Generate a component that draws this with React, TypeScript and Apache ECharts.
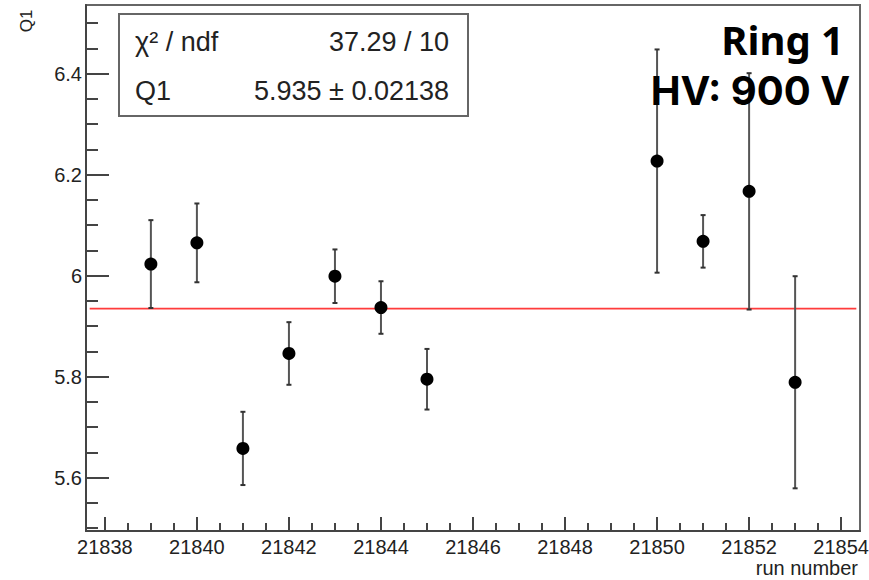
import React, { useEffect, useRef } from "react";
import * as echarts from "echarts";

// ---- data ----
const runs = [21839, 21840, 21841, 21842, 21843, 21844, 21845, 21850, 21851, 21852, 21853];
const q1 = [6.023, 6.065, 5.658, 5.846, 5.999, 5.937, 5.795, 6.227, 6.068, 6.167, 5.789];
const q1Err = [0.087, 0.078, 0.0725, 0.062, 0.053, 0.052, 0.06, 0.221, 0.052, 0.234, 0.21];

const fitValue = 5.935;
const fitRange = [21837.67, 21854.33];

const xMajorTicks = [21838, 21840, 21842, 21844, 21846, 21848, 21850, 21852, 21854];
const yMajorTicks = [5.6, 5.8, 6.0, 6.2, 6.4];

const xRange = [21837.59, 21854.41];
const yRange = [5.4945, 6.536];

const statsRows = [
  ["χ² / ndf", "37.29 / 10"],
  ["Q1", "5.935 ± 0.02138"],
];
const titleLines = ["Ring 1", "HV: 900 V"];

// minor ticks every quarter of a major step
const xMinorTicks: number[] = [];
for (let k = 0; k <= 36; k++) {
  const v = 21837.5 + k * 0.5;
  if (v > xRange[0] && v < xRange[1] && !xMajorTicks.includes(v)) xMinorTicks.push(v);
}
const yMinorTicks: number[] = [];
for (let k = 0; k <= 22; k++) {
  const v = Math.round((5.45 + k * 0.05) * 1000) / 1000;
  if (v > yRange[0] && v < yRange[1] && !yMajorTicks.some((m) => Math.abs(m - v) < 1e-6)) yMinorTicks.push(v);
}

const FONT = "Liberation Sans";

export default function App() {
  const ref = useRef<HTMLDivElement>(null);
  useEffect(() => {
    if (!ref.current) return;
    const chart = echarts.init(ref.current, undefined, { renderer: "svg" });
    const points = runs.map((r, i) => [r, q1[i], q1Err[i]]);
    const axisCommon = {
      type: "value" as const,
      splitLine: { show: false },
    };
    chart.setOption({
      animation: false,
      backgroundColor: "#ffffff",
      grid: {
        left: 86,
        right: 9,
        top: 5,
        bottom: 49,
        containLabel: false,
        outerBoundsMode: "none",
        show: true,
        borderColor: "#666",
        borderWidth: 2,
        backgroundColor: "transparent",
      },
      xAxis: [
        {
          ...axisCommon,
          min: xRange[0],
          max: xRange[1],
          position: "bottom",
          axisLine: { show: true, lineStyle: { color: "#444", width: 2 } },
          axisTick: { show: true, inside: true, length: 14, customValues: xMajorTicks, lineStyle: { color: "#444", width: 2 } },
          axisLabel: {
            show: true,
            customValues: xMajorTicks,
            margin: 6,
            fontFamily: FONT,
            fontSize: 20,
            color: "#222",
            formatter: (v: number) => String(Math.round(v)),
          },
        },
        {
          ...axisCommon,
          min: xRange[0],
          max: xRange[1],
          position: "bottom",
          axisLine: { show: false },
          axisTick: { show: true, inside: true, length: 8, customValues: xMinorTicks, lineStyle: { color: "#444", width: 2 } },
          axisLabel: { show: false },
        },
      ],
      yAxis: [
        {
          ...axisCommon,
          min: yRange[0],
          max: yRange[1],
          position: "left",
          axisLine: { show: true, lineStyle: { color: "#444", width: 2 } },
          axisTick: { show: true, inside: true, length: 23, customValues: yMajorTicks, lineStyle: { color: "#444", width: 2 } },
          axisLabel: {
            show: true,
            customValues: yMajorTicks,
            margin: 4,
            fontFamily: FONT,
            fontSize: 20,
            color: "#222",
            formatter: (v: number) => String(Math.round(v * 10) / 10),
          },
        },
        {
          ...axisCommon,
          min: yRange[0],
          max: yRange[1],
          position: "left",
          axisLine: { show: false },
          axisTick: { show: true, inside: true, length: 12, customValues: yMinorTicks, lineStyle: { color: "#444", width: 2 } },
          axisLabel: { show: false },
        },
      ],
      series: [
        {
          type: "line",
          xAxisIndex: 0,
          yAxisIndex: 0,
          data: [
            [fitRange[0], fitValue],
            [fitRange[1], fitValue],
          ],
          symbol: "none",
          lineStyle: { color: "#ff3b3b", width: 1.8 },
          silent: true,
          z: 2,
        },
        {
          type: "custom",
          xAxisIndex: 0,
          yAxisIndex: 0,
          data: points,
          encode: { x: 0, y: 1 },
          z: 3,
          renderItem: (params: any, api: any) => {
            const x = api.value(0);
            const y = api.value(1);
            const e = api.value(2);
            const top = api.coord([x, y + e]);
            const bot = api.coord([x, y - e]);
            const cap = 2.5;
            return {
              type: "group",
              children: [
                { type: "line", shape: { x1: top[0], y1: top[1], x2: bot[0], y2: bot[1] }, style: { stroke: "#555", lineWidth: 2 } },
                { type: "line", shape: { x1: top[0] - cap, y1: top[1], x2: top[0] + cap, y2: top[1] }, style: { stroke: "#333", lineWidth: 2 } },
                { type: "line", shape: { x1: bot[0] - cap, y1: bot[1], x2: bot[0] + cap, y2: bot[1] }, style: { stroke: "#333", lineWidth: 2 } },
              ],
            };
          },
        },
        {
          type: "scatter",
          xAxisIndex: 0,
          yAxisIndex: 0,
          data: points.map((p) => [p[0], p[1]]),
          symbol: "circle",
          symbolSize: 13,
          itemStyle: { color: "#000", opacity: 1 },
          z: 4,
        },
      ],
      graphic: [
        {
          type: "rect",
          shape: { x: 119, y: 14, width: 349, height: 102 },
          style: { fill: "#fff", stroke: "#666", lineWidth: 2 },
          z: 10,
        },
        ...statsRows.flatMap((row, i) => [
          {
            type: "text",
            x: 135,
            y: 42 + i * 49,
            z: 11,
            style: { text: row[0], fontFamily: FONT, fontSize: 27, fill: "#222", align: "left", verticalAlign: "middle" },
          },
          {
            type: "text",
            x: 449,
            y: 42 + i * 49,
            z: 11,
            style: { text: row[1], fontFamily: FONT, fontSize: 27, fill: "#222", align: "right", verticalAlign: "middle" },
          },
        ]),
        {
          type: "text",
          x: 844,
          y: 39,
          z: 12,
          style: { text: titleLines[0], fontFamily: "Noto Sans", fontWeight: "bold", fontSize: 40, fill: "#000", align: "right", verticalAlign: "middle" },
        },
        {
          type: "text",
          x: 850,
          y: 90,
          z: 12,
          style: { text: titleLines[1], fontFamily: "Inter", fontWeight: "bold", fontSize: 40, fill: "#000", align: "right", verticalAlign: "middle" },
        },
        {
          type: "text",
          x: 26,
          y: 21,
          rotation: Math.PI / 2,
          z: 11,
          style: { text: "Q1", fontFamily: FONT, fontSize: 17, fill: "#222", align: "center", verticalAlign: "middle" },
        },
        {
          type: "text",
          x: 858,
          y: 568,
          z: 11,
          style: { text: "run number", fontFamily: FONT, fontSize: 20, fill: "#222", align: "right", verticalAlign: "middle" },
        },
      ],
    });
    return () => chart.dispose();
  }, []);
  return <div ref={ref} style={{ position: "fixed", left: 0, top: 0, width: 869, height: 580, background: "#fff" }} />;
}
